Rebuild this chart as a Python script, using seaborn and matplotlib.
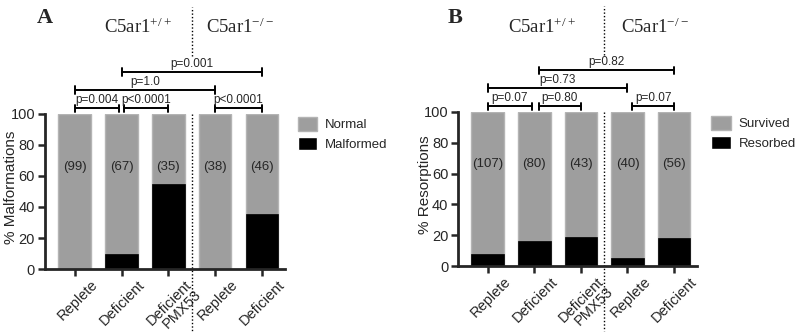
import pandas as pd
import seaborn as sns
import matplotlib.pyplot as plt
import matplotlib.transforms as mtransforms
from matplotlib.patches import Patch

# ------------------------------------------------------------------
# Data
# ------------------------------------------------------------------
groups = ["Replete", "Deficient", "Deficient\nPMX53", "Replete", "Deficient"]
group_keys = ["rep_wt", "def_wt", "pmx_wt", "rep_ko", "def_ko"]

malformed_pct = [0, 9.7, 55, 0, 35.4]
malformed_n = ["(99)", "(67)", "(35)", "(38)", "(46)"]
malformed_p = ["p=0.004", "p<0.0001", "p<0.0001", "p=1.0", "p=0.001"]

resorbed_pct = [7.8, 16.4, 19.0, 5.4, 18.1]
resorbed_n = ["(107)", "(80)", "(43)", "(40)", "(56)"]
resorbed_p = ["p=0.07", "p=0.80", "p=0.07", "p=0.73", "p=0.82"]

# bracket spans (start, end, level)
brackets_a = [(0, 0.95, 0), (1.05, 2.0, 0), (3, 4, 0), (0, 3, 1), (1, 4, 2)]
brackets_b = [(0, 0.95, 0), (1.1, 2.0, 0), (3.1, 4.0, 0), (0, 3, 1), (1.1, 4.0, 2)]

GRAY = "#9e9e9e"
GRAY_EDGE = "#b4b4b4"

sns.set_style("ticks")
plt.rcParams["font.family"] = ["Liberation Sans", "DejaVu Sans"]
plt.rcParams["mathtext.fontset"] = "custom"
plt.rcParams["mathtext.rm"] = "Liberation Serif"
plt.rcParams["mathtext.it"] = "Liberation Serif"

fig = plt.figure(figsize=(8, 3.33), dpi=100)


def draw_panel(rect, pct, counts, pvals, brackets, ylabel, leg_labels, leg_anchor):
    ax = fig.add_axes(rect)
    df = pd.DataFrame({"group": group_keys, "total": [100] * 5, "part": pct})
    sns.barplot(data=df, x="group", y="total", color=GRAY, width=0.7,
                edgecolor=GRAY_EDGE, linewidth=1, saturation=1, errorbar=None, ax=ax)
    sns.barplot(data=df, x="group", y="part", color="black", width=0.7,
                edgecolor="black", linewidth=0.5, saturation=1, errorbar=None, ax=ax)

    ax.set_xlim(-0.64, 4.49)
    ax.set_ylim(0, 100)
    ax.set_yticks(range(0, 101, 20))
    ax.set_xlabel("")
    ax.set_ylabel(ylabel, fontsize=11)
    ax.yaxis.set_label_coords(-0.11, 0.53)
    sns.despine(ax=ax)
    for s in ["left", "bottom"]:
        ax.spines[s].set_linewidth(2)
    ax.tick_params(axis="both", width=1.8, length=5, labelsize=10.5, pad=2)

    ax.set_xticks(range(5))
    ax.set_xticklabels(groups, rotation=45, ha="right", va="top",
                       rotation_mode="anchor", linespacing=0.95)
    offset = mtransforms.ScaledTranslation(0.16, 0.01, fig.dpi_scale_trans)
    for lab in ax.get_xticklabels():
        lab.set_transform(lab.get_transform() + offset)

    for i, c in enumerate(counts):
        ax.text(i, 66, c, ha="center", va="center", fontsize=9.5)

    # group separator
    ax.plot([2.5, 2.5], [100, -42], ls=(0, (1, 1.5)), color="black", lw=1, clip_on=False)
    ax.plot([2.5, 2.5], [137, 169], ls=(0, (1, 1.5)), color="black", lw=1, clip_on=False)

    # significance brackets
    levels = [103.5, 115.5, 127]
    for (x0, x1, lv), p in zip(brackets, pvals):
        y = levels[lv]
        ax.plot([x0, x1], [y, y], color="black", lw=1.4, clip_on=False)
        for xx in (x0, x1):
            ax.plot([xx, xx], [y - 2.4, y + 2.4], color="black", lw=1.4, clip_on=False)
        ax.text((x0 + x1) / 2, y + 1.3, p, ha="center", va="bottom", fontsize=8.5)

    handles = [Patch(facecolor=GRAY, edgecolor=GRAY_EDGE), Patch(facecolor="black")]
    ax.legend(handles, leg_labels, loc="upper left", bbox_to_anchor=leg_anchor,
              bbox_transform=fig.transFigure, frameon=False, fontsize=9.5,
              handlelength=1.5, handleheight=1.2, handletextpad=0.6, labelspacing=0.4,
              borderaxespad=0, borderpad=0)
    return ax


draw_panel([0.056, 0.192, 0.300, 0.466], malformed_pct, malformed_n, malformed_p,
           brackets_a, "% Malformations", ["Normal", "Malformed"], (0.372, 0.648))
draw_panel([0.5725, 0.201, 0.2985, 0.463], resorbed_pct, resorbed_n, resorbed_p,
           brackets_b, "% Resorptions", ["Survived", "Resorbed"], (0.889, 0.651))

# panel headers
for x, letter in [(45, "A"), (455, "B")]:
    fig.text(x / 800, 1 - 18 / 333, letter, ha="center", va="center",
             fontsize=16, fontweight="bold", family="Liberation Serif")
for x, txt in [(138, r"C5ar1$^{+/+}$"), (240, r"C5ar1$^{\mathrm{-/-}}$"),
               (542, r"C5ar1$^{+/+}$"), (655, r"C5ar1$^{\mathrm{-/-}}$")]:
    fig.text(x / 800, 1 - 27 / 333, txt, ha="center", va="center",
             fontsize=13.5, family="Liberation Serif")

fig.savefig("out.png", dpi=100)
